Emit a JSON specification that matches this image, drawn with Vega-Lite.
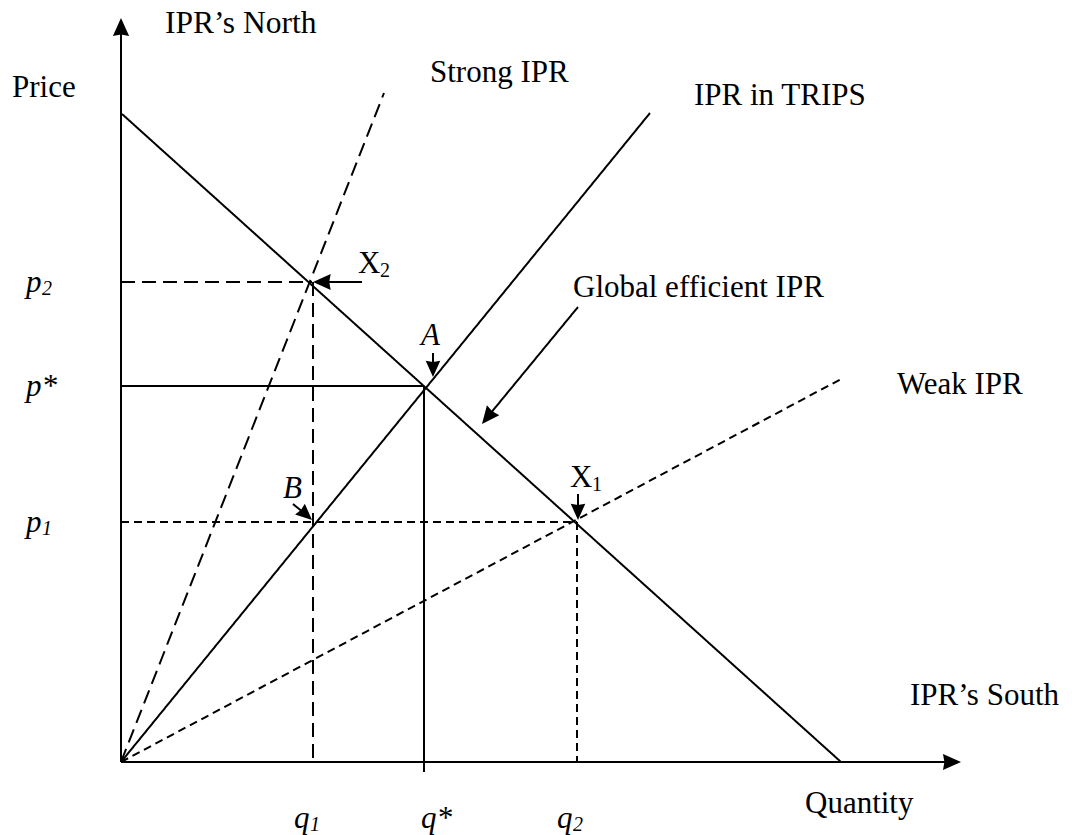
{
  "$schema": "https://vega.github.io/schema/vega-lite/v6.json",
  "width": 1072,
  "height": 835,
  "autosize": {"type": "fit", "contains": "padding"},
  "padding": 0,
  "background": "white",
  "config": {"view": {"stroke": null}},
  "datasets": {
    "segments": [
      {"name": "y axis", "x": 0, "y": 0, "x2": 0, "y2": 735, "dash": "solid"},
      {"name": "x axis", "x": 0, "y": 0, "x2": 830, "y2": 0, "dash": "solid"},
      {"name": "Global efficient IPR (demand)", "x": 1, "y": 648, "x2": 720, "y2": 0, "dash": "solid"},
      {"name": "Strong IPR", "x": 0, "y": 0, "x2": 263, "y2": 669, "dash": "long"},
      {"name": "IPR in TRIPS", "x": 0, "y": 0, "x2": 529, "y2": 649, "dash": "solid"},
      {"name": "Weak IPR", "x": 0, "y": 0, "x2": 722, "y2": 384, "dash": "short"},
      {"name": "p2", "x": 0, "y": 480, "x2": 191, "y2": 480, "dash": "long"},
      {"name": "q1", "x": 192, "y": 480, "x2": 192, "y2": 0, "dash": "long"},
      {"name": "p*", "x": 0, "y": 376, "x2": 303, "y2": 376, "dash": "solid"},
      {"name": "q*", "x": 303, "y": 376, "x2": 303, "y2": -10, "dash": "solid"},
      {"name": "p1", "x": 0, "y": 240, "x2": 456, "y2": 240, "dash": "short"},
      {"name": "q2", "x": 456, "y": 240, "x2": 456, "y2": 0, "dash": "short"},
      {"name": "X2 arrow", "x": 241, "y": 480, "x2": 204, "y2": 480, "dash": "solid"},
      {"name": "A arrow", "x": 312, "y": 409, "x2": 312, "y2": 396, "dash": "solid"},
      {"name": "B arrow", "x": 172, "y": 258, "x2": 183, "y2": 249, "dash": "solid"},
      {"name": "X1 arrow", "x": 457, "y": 268, "x2": 457, "y2": 253, "dash": "solid"},
      {"name": "Global arrow", "x": 457, "y": 455, "x2": 369, "y2": 348, "dash": "solid"}
    ],
    "heads": [
      {"name": "y axis", "x": 0, "y": 744, "angle": 0, "size": 1300},
      {"name": "x axis", "x": 840, "y": 0, "angle": 90, "size": 1300},
      {"name": "X2", "x": 192, "y": 480, "angle": 270, "size": 1250},
      {"name": "A", "x": 312, "y": 385, "angle": 180, "size": 1050},
      {"name": "B", "x": 191, "y": 242, "angle": 132, "size": 1050},
      {"name": "X1", "x": 457, "y": 242, "angle": 180, "size": 1050},
      {"name": "Global", "x": 361, "y": 338, "angle": 219, "size": 1250}
    ],
    "labels": [
      {"text": "IPR’s North", "x": 44, "y": 729, "size": 31.5, "style": "normal"},
      {"text": "Price", "x": -109, "y": 665, "size": 31, "style": "normal"},
      {"text": "Strong IPR", "x": 309, "y": 680, "size": 31, "style": "normal"},
      {"text": "IPR in TRIPS", "x": 573, "y": 657, "size": 31, "style": "normal"},
      {"text": "Global efficient IPR", "x": 452, "y": 465, "size": 31, "style": "normal"},
      {"text": "Weak IPR", "x": 776, "y": 368, "size": 31, "style": "normal"},
      {"text": "IPR’s South", "x": 789, "y": 57, "size": 31, "style": "normal"},
      {"text": "Quantity", "x": 684, "y": -51, "size": 31, "style": "normal"},
      {"text": "X", "x": 237, "y": 489, "size": 31, "style": "normal"},
      {"text": "2", "x": 259, "y": 485, "size": 20, "style": "normal"},
      {"text": "X", "x": 449, "y": 275, "size": 31, "style": "normal"},
      {"text": "1", "x": 471, "y": 271, "size": 20, "style": "normal"},
      {"text": "A", "x": 300, "y": 417, "size": 31, "style": "italic"},
      {"text": "B", "x": 162, "y": 264, "size": 31, "style": "italic"},
      {"text": "q", "x": 173, "y": -66, "size": 31, "style": "italic"},
      {"text": "1", "x": 189, "y": -69, "size": 20, "style": "italic"},
      {"text": "q*", "x": 300, "y": -66, "size": 31, "style": "italic"},
      {"text": "q", "x": 436, "y": -66, "size": 31, "style": "italic"},
      {"text": "2", "x": 452, "y": -69, "size": 20, "style": "italic"},
      {"text": "p", "x": -95, "y": 470, "size": 31, "style": "italic"},
      {"text": "2", "x": -79, "y": 467, "size": 20, "style": "italic"},
      {"text": "p*", "x": -95, "y": 366, "size": 31, "style": "italic"},
      {"text": "p", "x": -95, "y": 230, "size": 31, "style": "italic"},
      {"text": "1", "x": -79, "y": 227, "size": 20, "style": "italic"}
    ]
  },
  "layer": [
    {
      "data": {"name": "segments"},
      "mark": {"type": "rule", "strokeWidth": 2, "color": "black"},
      "encoding": {
        "x": {"field": "x", "type": "quantitative", "scale": {"domain": [-121, 951], "nice": false, "zero": false}, "axis": null},
        "y": {"field": "y", "type": "quantitative", "scale": {"domain": [-73, 762], "nice": false, "zero": false}, "axis": null},
        "x2": {"field": "x2"},
        "y2": {"field": "y2"},
        "strokeDash": {"field": "dash", "type": "nominal", "scale": {"domain": ["solid", "long", "short"], "range": [[1, 0], [14, 7], [8, 5]]}, "legend": null}
      }
    },
    {
      "data": {"name": "heads"},
      "mark": {"type": "point", "filled": true, "shape": "M0,0L-0.45,1L0,0.92L0.45,1Z", "color": "black", "opacity": 1, "strokeWidth": 0},
      "encoding": {
        "x": {"field": "x", "type": "quantitative"},
        "y": {"field": "y", "type": "quantitative"},
        "angle": {"field": "angle", "type": "quantitative", "scale": null},
        "size": {"field": "size", "type": "quantitative", "scale": null}
      }
    },
    {
      "data": {"name": "labels"},
      "transform": [{"filter": "datum.style === 'normal'"}],
      "mark": {"type": "text", "font": "Liberation Serif", "align": "left", "baseline": "alphabetic", "color": "black"},
      "encoding": {
        "x": {"field": "x", "type": "quantitative"},
        "y": {"field": "y", "type": "quantitative"},
        "text": {"field": "text"},
        "size": {"field": "size", "type": "quantitative", "scale": null}
      }
    },
    {
      "data": {"name": "labels"},
      "transform": [{"filter": "datum.style === 'italic'"}],
      "mark": {"type": "text", "font": "Liberation Serif", "fontStyle": "italic", "align": "left", "baseline": "alphabetic", "color": "black"},
      "encoding": {
        "x": {"field": "x", "type": "quantitative"},
        "y": {"field": "y", "type": "quantitative"},
        "text": {"field": "text"},
        "size": {"field": "size", "type": "quantitative", "scale": null}
      }
    }
  ]
}
